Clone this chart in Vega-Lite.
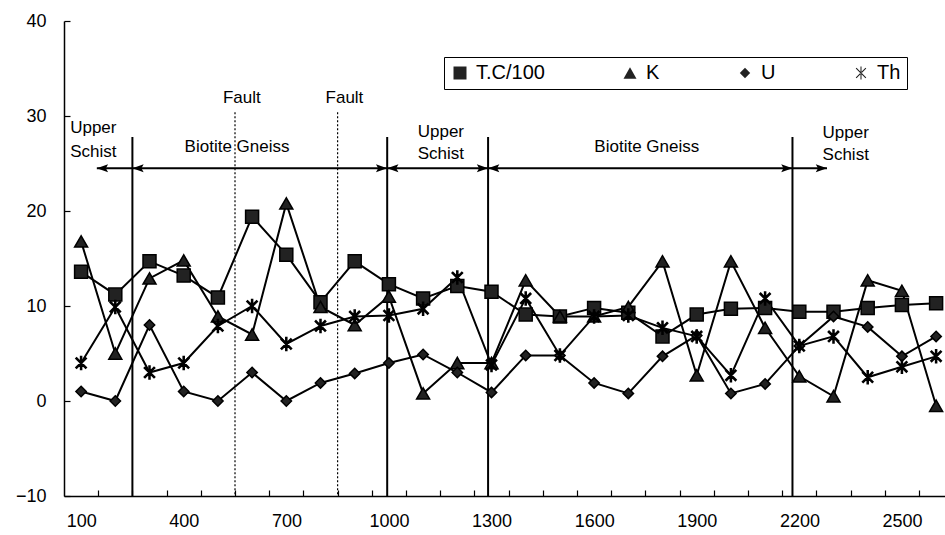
{
  "$schema": "https://vega.github.io/schema/vega-lite/v6.json",
  "width": 881,
  "height": 475,
  "autosize": {"type": "none"},
  "padding": {"left": 64, "top": 21, "right": 0, "bottom": 39},
  "background": "white",
  "config": {"view": {"stroke": null}, "font": "Liberation Sans"},
  "datasets": {
    "series": [
      {"x":100,"s":"T.C/100","y":13.6},{"x":200,"s":"T.C/100","y":11.2},{"x":300,"s":"T.C/100","y":14.7},{"x":400,"s":"T.C/100","y":13.2},{"x":500,"s":"T.C/100","y":10.9},{"x":600,"s":"T.C/100","y":19.4},{"x":700,"s":"T.C/100","y":15.4},{"x":800,"s":"T.C/100","y":10.4},{"x":900,"s":"T.C/100","y":14.7},{"x":1000,"s":"T.C/100","y":12.3},{"x":1100,"s":"T.C/100","y":10.8},{"x":1200,"s":"T.C/100","y":12.1},{"x":1300,"s":"T.C/100","y":11.5},{"x":1400,"s":"T.C/100","y":9.1},{"x":1500,"s":"T.C/100","y":8.9},{"x":1600,"s":"T.C/100","y":9.8},{"x":1700,"s":"T.C/100","y":9.3},{"x":1800,"s":"T.C/100","y":6.8},{"x":1900,"s":"T.C/100","y":9.1},{"x":2000,"s":"T.C/100","y":9.7},{"x":2100,"s":"T.C/100","y":9.8},{"x":2200,"s":"T.C/100","y":9.4},{"x":2300,"s":"T.C/100","y":9.4},{"x":2400,"s":"T.C/100","y":9.8},{"x":2500,"s":"T.C/100","y":10.1},{"x":2600,"s":"T.C/100","y":10.3},
      {"x":100,"s":"K","y":16.8},{"x":200,"s":"K","y":5.0},{"x":300,"s":"K","y":12.9},{"x":400,"s":"K","y":14.8},{"x":500,"s":"K","y":8.9},{"x":600,"s":"K","y":7.0},{"x":700,"s":"K","y":20.8},{"x":800,"s":"K","y":9.9},{"x":900,"s":"K","y":8.0},{"x":1000,"s":"K","y":11.0},{"x":1100,"s":"K","y":0.8},{"x":1200,"s":"K","y":4.0},{"x":1300,"s":"K","y":4.0},{"x":1400,"s":"K","y":12.7},{"x":1500,"s":"K","y":8.9},{"x":1600,"s":"K","y":8.9},{"x":1700,"s":"K","y":9.9},{"x":1800,"s":"K","y":14.7},{"x":1900,"s":"K","y":2.7},{"x":2000,"s":"K","y":14.7},{"x":2100,"s":"K","y":7.7},{"x":2200,"s":"K","y":2.6},{"x":2300,"s":"K","y":0.5},{"x":2400,"s":"K","y":12.7},{"x":2500,"s":"K","y":11.6},{"x":2600,"s":"K","y":-0.5},
      {"x":100,"s":"U","y":1.0},{"x":200,"s":"U","y":0.0},{"x":300,"s":"U","y":8.0},{"x":400,"s":"U","y":1.0},{"x":500,"s":"U","y":0.0},{"x":600,"s":"U","y":3.0},{"x":700,"s":"U","y":0.0},{"x":800,"s":"U","y":1.9},{"x":900,"s":"U","y":2.9},{"x":1000,"s":"U","y":4.0},{"x":1100,"s":"U","y":4.9},{"x":1200,"s":"U","y":3.0},{"x":1300,"s":"U","y":0.9},{"x":1400,"s":"U","y":4.8},{"x":1500,"s":"U","y":4.8},{"x":1600,"s":"U","y":1.9},{"x":1700,"s":"U","y":0.8},{"x":1800,"s":"U","y":4.7},{"x":1900,"s":"U","y":6.9},{"x":2000,"s":"U","y":0.8},{"x":2100,"s":"U","y":1.8},{"x":2200,"s":"U","y":5.8},{"x":2300,"s":"U","y":8.9},{"x":2400,"s":"U","y":7.8},{"x":2500,"s":"U","y":4.7},{"x":2600,"s":"U","y":6.8},
      {"x":100,"s":"Th","y":4.0},{"x":200,"s":"Th","y":9.9},{"x":300,"s":"Th","y":3.0},{"x":400,"s":"Th","y":4.0},{"x":500,"s":"Th","y":7.9},{"x":600,"s":"Th","y":10.0},{"x":700,"s":"Th","y":6.0},{"x":800,"s":"Th","y":7.9},{"x":900,"s":"Th","y":8.9},{"x":1000,"s":"Th","y":9.0},{"x":1100,"s":"Th","y":9.7},{"x":1200,"s":"Th","y":13.0},{"x":1300,"s":"Th","y":3.8},{"x":1400,"s":"Th","y":10.8},{"x":1500,"s":"Th","y":4.8},{"x":1600,"s":"Th","y":8.9},{"x":1700,"s":"Th","y":9.0},{"x":1800,"s":"Th","y":7.7},{"x":1900,"s":"Th","y":6.8},{"x":2000,"s":"Th","y":2.7},{"x":2100,"s":"Th","y":10.8},{"x":2200,"s":"Th","y":5.8},{"x":2300,"s":"Th","y":6.8},{"x":2400,"s":"Th","y":2.5},{"x":2500,"s":"Th","y":3.6},{"x":2600,"s":"Th","y":4.7}
    ],
    "vlines": [
      {"x":250,"y":27.8,"y2":-10},{"x":995,"y":27.8,"y2":-10},{"x":1290,"y":27.8,"y2":-10},{"x":2180,"y":27.8,"y2":-10}
    ],
    "faults": [
      {"x":550,"y":30.4,"y2":-10},{"x":850,"y":30.4,"y2":-10}
    ],
    "arrows": [
      {"x":146,"x2":250,"y":24.5},{"x":250,"x2":995,"y":24.5},{"x":995,"x2":1290,"y":24.5},{"x":1290,"x2":2180,"y":24.5},{"x":2180,"x2":2281,"y":24.5}
    ],
    "heads": [
      {"x":146,"y":24.5,"d":"L"},{"x":250,"y":24.5,"d":"L"},{"x":995,"y":24.5,"d":"R"},{"x":995,"y":24.5,"d":"L"},{"x":1290,"y":24.5,"d":"R"},{"x":1290,"y":24.5,"d":"L"},{"x":2180,"y":24.5,"d":"R"},{"x":2281,"y":24.5,"d":"R"}
    ],
    "textsC": [
      {"x":556,"y":26.2,"t":"Biotite Gneiss"},{"x":1152,"y":27.8,"t":"Upper"},{"x":1152,"y":25.5,"t":"Schist"},{"x":1754,"y":26.2,"t":"Biotite Gneiss"},{"x":570,"y":31.4,"t":"Fault"},{"x":870,"y":31.4,"t":"Fault"}
    ],
    "textsL": [
      {"x":68,"y":28.2,"t":"Upper"},{"x":68,"y":25.7,"t":"Schist"},{"x":2268,"y":27.7,"t":"Upper"},{"x":2268,"y":25.4,"t":"Schist"}
    ]
  },
  "encoding": {
    "x": {"field":"x","type":"quantitative","scale":{"domain":[50,2626],"nice":false,"zero":false},
      "axis": {"title": null, "grid": false, "values": [150,250,350,450,550,650,750,850,950,1050,1150,1250,1350,1450,1550,1650,1750,1850,1950,2050,2150,2250,2350,2450,2550],
        "labelExpr": "(datum.value - 150) % 300 == 0 ? format(datum.value - 50, 'd') : ''",
        "labelOffset": -17, "tickSize": -6, "labelPadding": 22, "labelOverlap": false, "labelFlush": false, "labelBound": false,
        "domainColor": "black", "domainWidth": 1.5, "tickColor": "black", "tickWidth": 1.2,
        "labelFontSize": 18, "labelColor": "black", "labelFont": "Liberation Sans"}},
    "y": {"field":"y","type":"quantitative","scale":{"domain":[-10,40],"nice":false,"zero":false},
      "axis": {"title": null, "grid": false, "values": [-10,0,10,20,30,40], "tickSize": -6, "labelPadding": 24,
        "domainColor": "black", "domainWidth": 1.5, "tickColor": "black", "tickWidth": 1.2,
        "labelFontSize": 18, "labelColor": "black", "labelFont": "Liberation Sans"}}
  },
  "layer": [
    {"data": {"name": "vlines"}, "mark": {"type":"rule","color":"black","strokeWidth":2},
      "encoding": {"y2": {"field":"y2"}}},
    {"data": {"name": "faults"}, "mark": {"type":"rule","color":"black","strokeWidth":1.2,"strokeDash":[2,2]},
      "encoding": {"y2": {"field":"y2"}}},
    {"data": {"name": "arrows"}, "mark": {"type":"rule","color":"black","strokeWidth":2},
      "encoding": {"x2": {"field":"x2"}}},
    {"data": {"name": "heads"}, "transform": [{"filter": "datum.d == 'L'"}],
      "mark": {"type":"point","shape":"M0,0L2.5,-0.9L2,0L2.5,0.9Z","size":81,"filled":true,"color":"black","opacity":1}},
    {"data": {"name": "heads"}, "transform": [{"filter": "datum.d == 'R'"}],
      "mark": {"type":"point","shape":"M0,0L-2.5,-0.9L-2,0L-2.5,0.9Z","size":81,"filled":true,"color":"black","opacity":1}},
    {"data": {"name": "textsC"}, "mark": {"type":"text","align":"center","baseline":"alphabetic","fontSize":17,"font":"Liberation Sans","color":"black"},
      "encoding": {"text": {"field":"t"}}},
    {"data": {"name": "textsL"}, "mark": {"type":"text","align":"left","baseline":"alphabetic","fontSize":17,"font":"Liberation Sans","color":"black"},
      "encoding": {"text": {"field":"t"}}},
    {"data": {"name": "series"}, "mark": {"type":"line","color":"black","strokeWidth":2},
      "encoding": {"detail": {"field":"s","type":"nominal"}}},
    {"data": {"name": "series"}, "mark": {"type":"point","fill":"#222222","stroke":"black","strokeWidth":1.5,"opacity":1,"size":169},
      "encoding": {
        "shape": {"field":"s","type":"nominal",
          "scale": {"domain":["T.C/100","K","U","Th"],"range":["square","triangle-up","M0,-0.8L0.8,0L0,0.8L-0.8,0Z","M-0.08,-1L0.08,-1L0.08,1L-0.08,1ZM-0.69,-0.81L0.81,0.69L0.69,0.81L-0.81,-0.69ZM-0.69,0.81L0.81,-0.69L0.69,-0.81L-0.81,0.69Z"]},
          "legend": {"title": null, "orient": "none", "legendX": 380, "legendY": 36, "direction": "horizontal", "columns": 4,
            "strokeColor": "black", "padding": 6, "symbolSize": 169, "symbolStrokeWidth": 1.5, "symbolStrokeColor": "black", "symbolFillColor": "black",
            "labelFontSize": 20, "labelFont": "Liberation Sans", "labelColor": "black", "labelOffset": 6, "columnPadding": 75, "gridAlign": "none",
            "encode": {"symbols": {"fill": {"value": "#222222"}, "stroke": {"value": "black"}, "strokeWidth": {"value": 1.5}, "opacity": {"value": 1}}}}}
      }}
  ]
}
